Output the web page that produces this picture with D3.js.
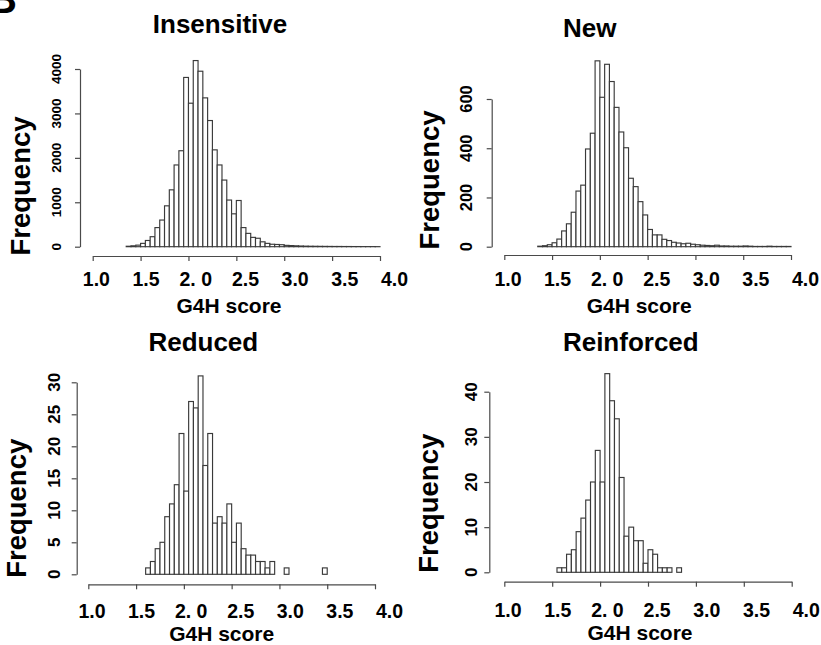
<!DOCTYPE html>
<html>
<head>
<meta charset="utf-8">
<script src="https://cdn.jsdelivr.net/npm/d3@7"></script>
<style>
  html, body { margin: 0; padding: 0; background: #fff; }
  svg { display: block; }
  text { font-family: "Liberation Sans", Arial, Helvetica, sans-serif; font-weight: bold; fill: #000; }
</style>
</head>
<body>
<svg id="chart" width="821" height="645"></svg>
<script>
// ---------------- DATA ----------------
const binWidth = 0.05;
const xTickValues = [1.0, 1.5, 2.0, 2.5, 3.0, 3.5, 4.0];
const xTickLabels = ["1.0", "1.5", "2. 0", "2.5", "3.0", "3.5", "4.0"];
const panelLabel = "B";
const xAxisTitle = "G4H score";
const yAxisTitle = "Frequency";
const panelTitles = ["Insensitive", "New", "Reduced", "Reinforced"];

// Insensitive: bins of 0.05 starting at 1.35
const insensitiveStart = 1.35;
const insensitiveCounts = [10, 20, 35, 75, 140, 225, 430, 600, 920, 1280, 1840, 2160, 3810,
  3230, 4190, 3950, 3350, 2840, 2180, 1840, 1500, 1050, 740, 1040, 430, 300, 210, 190, 110,
  75, 55, 50, 45, 30, 25, 20, 15, 12, 10, 9, 8, 7, 6, 5, 5, 4, 4, 3, 3, 2, 2, 2, 1];
const insensitiveYTicks = [0, 1000, 2000, 3000, 4000];

// New: bins of 0.05 starting at 1.35
const newStart = 1.35;
const newCounts = [2, 4, 8, 16, 31, 64, 93, 140, 226, 250, 397, 461, 755,
  607, 741, 671, 566, 466, 402, 278, 244, 183, 129, 70, 48, 48, 30, 25, 18,
  15, 12, 14, 10, 8, 6, 5, 4, 6, 3, 3, 2, 2, 2, 3, 2, 1, 1, 1, 2, 1, 1, 1, 1];
const newYTicks = [0, 200, 400, 600];

// Reduced: bins of 0.05 starting at 1.60
const reducedStart = 1.60;
const reducedCounts = [1, 2, 4, 5, 9, 11, 14, 22, 13, 27, 26, 31, 17, 22, 8, 9, 8, 11,
  5, 8, 4, 3, 3, 2, 2, 1, 2, 0, 0, 1, 0, 0, 0, 0, 0, 0, 0, 1];
const reducedYTicks = [0, 5, 10, 15, 20, 25, 30];

// Reinforced: bins of 0.05 starting at 1.55
const reinforcedStart = 1.55;
const reinforcedCounts = [1, 1, 4, 5, 9, 12, 16, 20, 27, 20, 44, 38, 34, 21, 8, 10, 7, 7,
  2, 5, 4, 1, 1, 1, 0, 1];
const reinforcedYTicks = [0, 10, 20, 30, 40];

// ---------------- LAYOUT ----------------
const panels = [
  { title: panelTitles[0], start: insensitiveStart, counts: insensitiveCounts, yTicks: insensitiveYTicks,
    x0: 92.7, x1: 380, axisY: 256, y0: 246.7, yTop: 69, yAxisX: 80, yLabX: 60.5, yTickFont: 13.5,
    titleX: 220, titleY: 33.2, xlabX: 229, xlabY: 313.3, tickLabY: 286, freqX: 30.3, freqY: 186 },
  { title: panelTitles[1], start: newStart, counts: newCounts, yTicks: newYTicks,
    x0: 504.3, x1: 791, axisY: 255, y0: 246.7, yTop: 99, yAxisX: 491.7, yLabX: 472, yTickFont: 16.5,
    titleX: 589.7, titleY: 37.3, xlabX: 639.2, xlabY: 313, tickLabY: 286, freqX: 439.3, freqY: 180 },
  { title: panelTitles[2], start: reducedStart, counts: reducedCounts, yTicks: reducedYTicks,
    x0: 88.3, x1: 375, axisY: 584.3, y0: 574.3, yTop: 382.3, yAxisX: 76.7, yLabX: 60, yTickFont: 17,
    titleX: 203.3, titleY: 350.7, xlabX: 221.7, xlabY: 641, tickLabY: 618.3, freqX: 26, freqY: 508.3 },
  { title: panelTitles[3], start: reinforcedStart, counts: reinforcedCounts, yTicks: reinforcedYTicks,
    x0: 504.3, x1: 791.7, axisY: 581.7, y0: 572.3, yTop: 391.7, yAxisX: 489.3, yLabX: 476.5, yTickFont: 17,
    titleX: 630.8, titleY: 351, xlabX: 640, xlabY: 640, tickLabY: 616.7, freqX: 437.6, freqY: 503.3 }
];

const svg = d3.select("#chart");
const axisColor = "#4a4a4a";
const barStroke = "#3a3a3a";

// panel letter (partially cut at top-left, as in the source figure)
svg.append("text")
  .attr("x", -12).attr("y", 13)
  .attr("font-size", 40)
  .text(panelLabel);

panels.forEach(p => {
  const g = svg.append("g");
  const x = d3.scaleLinear().domain([1, 4]).range([p.x0, p.x1]);
  const yMax = p.yTicks[p.yTicks.length - 1];
  const y = d3.scaleLinear().domain([0, yMax]).range([p.y0, p.yTop]);
  const labelX = d3.scaleLinear().domain([1, 4]).range([p.x0 + 3.7, p.x1 + 14.5]);

  // bins
  const bins = p.counts.map((c, i) => {
    const lo = +(p.start + i * binWidth).toFixed(4);
    return { lo: lo, hi: lo + binWidth, count: c };
  });

  g.append("g").selectAll("rect")
    .data(bins)
    .join("rect")
    .attr("x", d => x(d.lo))
    .attr("width", d => x(d.hi) - x(d.lo))
    .attr("y", d => y(d.count))
    .attr("height", d => y(0) - y(d.count))
    .attr("fill", "#fff")
    .attr("stroke", barStroke)
    .attr("stroke-width", 1.15);

  // x axis
  const xAxis = d3.axisBottom(x).tickValues(xTickValues).tickSize(5).tickSizeOuter(0).tickFormat("");
  const xg = g.append("g").attr("transform", `translate(0,${p.axisY})`).call(xAxis);
  xg.select(".domain").attr("stroke", axisColor).attr("stroke-width", 1.2);
  xg.selectAll(".tick line").attr("stroke", axisColor).attr("stroke-width", 1.2);

  g.append("g").selectAll("text")
    .data(xTickValues)
    .join("text")
    .attr("x", d => labelX(d))
    .attr("y", p.tickLabY)
    .attr("text-anchor", "middle")
    .attr("font-size", 19.5)
    .text((d, i) => xTickLabels[i]);

  // y axis
  const yAxis = d3.axisLeft(y).tickValues(p.yTicks).tickSize(5).tickSizeOuter(0).tickFormat("");
  const yg = g.append("g").attr("transform", `translate(${p.yAxisX},0)`).call(yAxis);
  yg.select(".domain").attr("stroke", axisColor).attr("stroke-width", 1.2);
  yg.selectAll(".tick line").attr("stroke", axisColor).attr("stroke-width", 1.2);

  g.append("g").selectAll("text")
    .data(p.yTicks)
    .join("text")
    .attr("transform", d => `translate(${p.yLabX},${y(d)}) rotate(-90)`)
    .attr("text-anchor", "middle")
    .attr("font-size", p.yTickFont)
    .text(d => String(d));

  // titles
  g.append("text")
    .attr("x", p.titleX).attr("y", p.titleY)
    .attr("text-anchor", "middle")
    .attr("font-size", 26)
    .text(p.title);

  g.append("text")
    .attr("x", p.xlabX).attr("y", p.xlabY)
    .attr("text-anchor", "middle")
    .attr("font-size", 21)
    .text(xAxisTitle);

  g.append("text")
    .attr("transform", `translate(${p.freqX},${p.freqY}) rotate(-90)`)
    .attr("text-anchor", "middle")
    .attr("font-size", 27.5)
    .text(yAxisTitle);
});
</script>
</body>
</html>
